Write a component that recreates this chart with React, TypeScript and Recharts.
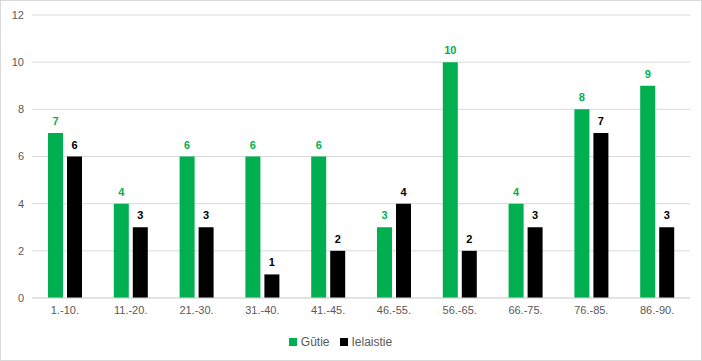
import React from 'react'
import { Bar, BarChart, CartesianGrid, LabelList, Legend, XAxis, YAxis } from 'recharts'

const categories = ['1.-10.', '11.-20.', '21.-30.', '31.-40.', '41.-45.', '46.-55.', '56.-65.', '66.-75.', '76.-85.', '86.-90.']
const gutie = [7, 4, 6, 6, 6, 3, 10, 4, 8, 9]
const ielaistie = [6, 3, 3, 1, 2, 4, 2, 3, 7, 3]
const yTicks = [0, 2, 4, 6, 8, 10, 12]

const data = categories.map((c, i) => ({ name: c, gutie: gutie[i], ielaistie: ielaistie[i] }))

const GREEN = '#00B050'
const font = "'Liberation Sans', Arial, sans-serif"

const App: React.FC = () => {
  return (
    <div
      style={{
        position: 'absolute',
        top: 0,
        left: 0,
        width: 702,
        height: 361,
        boxSizing: 'border-box',
        border: '1px solid #d9d9d9',
        background: 'white',
        fontFamily: font,
      }}
    >
      <BarChart
        width={700}
        height={359}
        data={data}
        margin={{ top: 14, right: 11, left: 0, bottom: 0 }}
        barSize={15}
        barGap={4}
      >
        <CartesianGrid vertical={false} stroke='#d9d9d9' />
        <XAxis
          dataKey='name'
          tickLine={false}
          axisLine={{ stroke: '#d9d9d9' }}
          height={30}
          tick={{ fill: '#595959', fontSize: 11, fontFamily: font }}
          interval={0}
        />
        <YAxis
          width={31}
          domain={[0, 12]}
          ticks={yTicks}
          axisLine={false}
          tickLine={false}
          tick={{ fill: '#595959', fontSize: 11, fontFamily: font }}
        />
        <Legend
          height={32}
          iconType='square'
          iconSize={8}
          wrapperStyle={{ bottom: -4 }}
          formatter={(v) => <span style={{ color: '#595959', fontSize: 12, fontFamily: font }}>{v}</span>}
        />
        <Bar dataKey='gutie' name='Gūtie' fill={GREEN} isAnimationActive={false}>
          <LabelList dataKey='gutie' position='top' offset={8} fill={GREEN} fontSize={11} fontWeight='bold' />
        </Bar>
        <Bar dataKey='ielaistie' name='Ielaistie' fill='#000000' isAnimationActive={false}>
          <LabelList dataKey='ielaistie' position='top' offset={8} fill='#000000' fontSize={11} fontWeight='bold' />
        </Bar>
      </BarChart>
    </div>
  )
}

export default App
